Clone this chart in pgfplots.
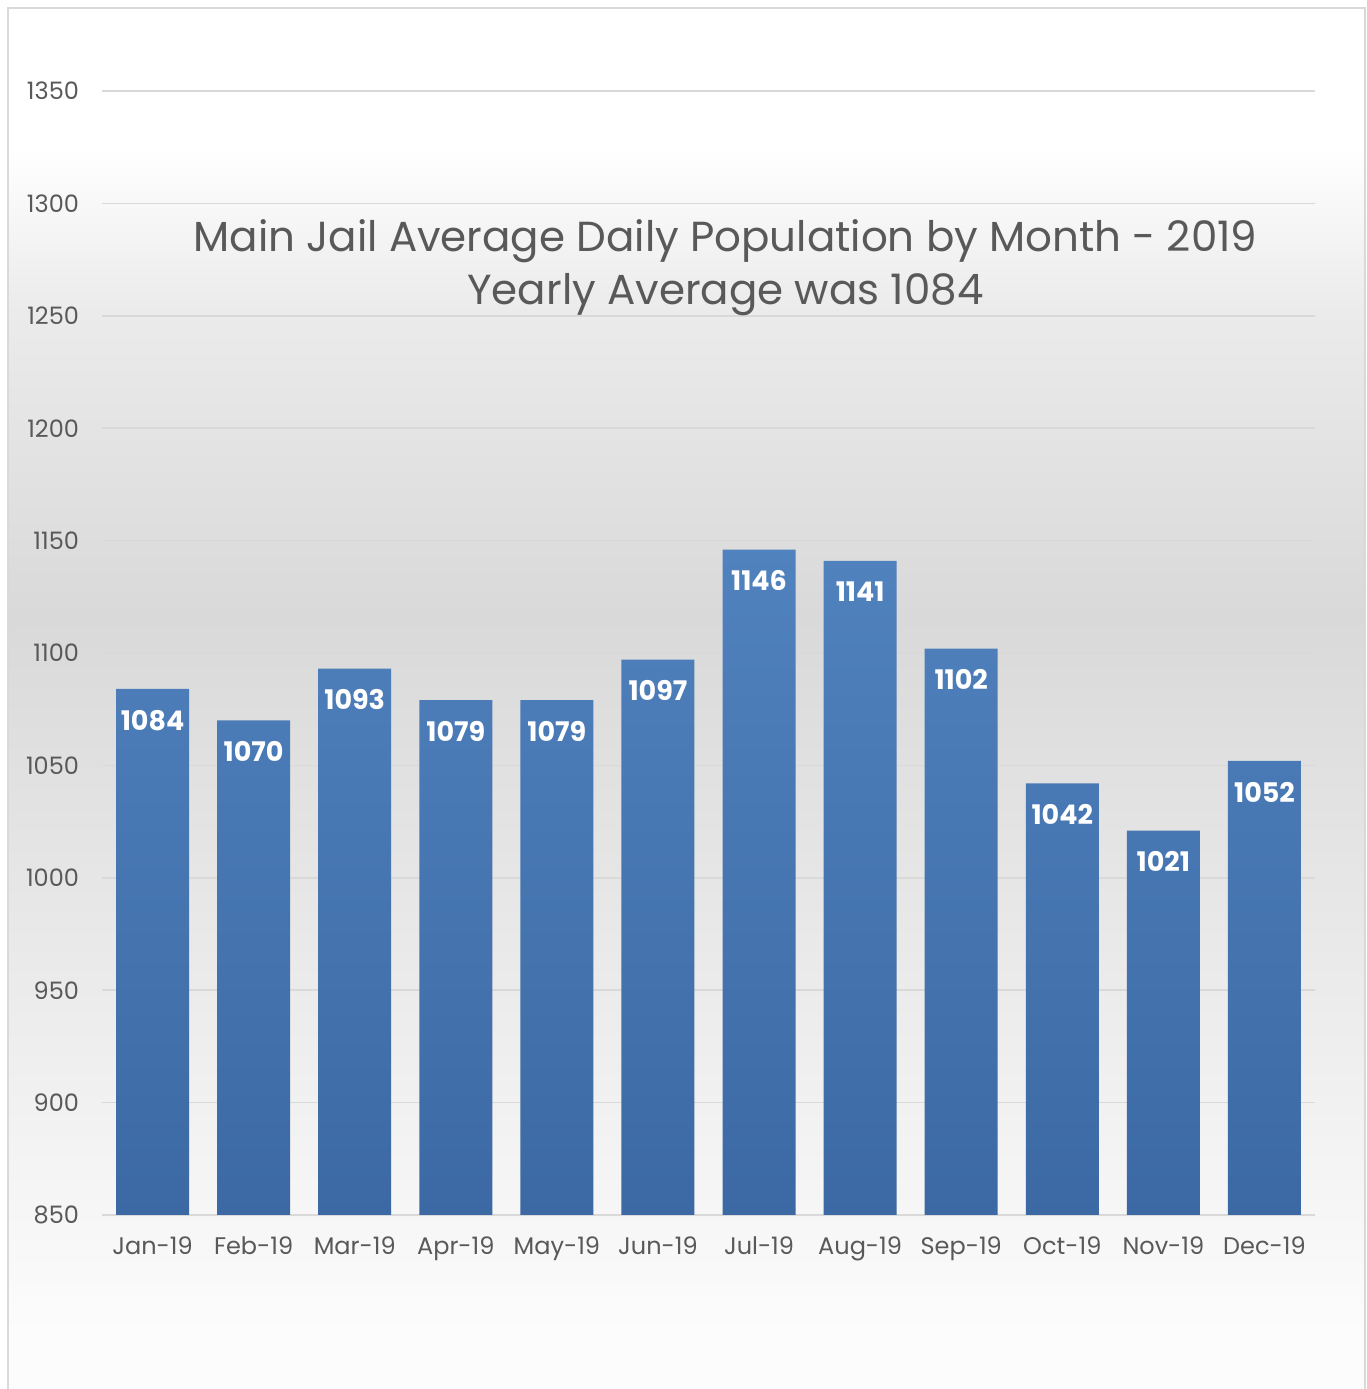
\documentclass[border=0pt]{standalone}
\usepackage{pgfplots}
\pgfplotsset{compat=1.18}
\usepackage{fontspec}
\setmainfont{Poppins}
\definecolor{barTop}{HTML}{5082BE}
\definecolor{barBot}{HTML}{3C69A3}
\definecolor{txt}{HTML}{595959}
\definecolor{gridc}{HTML}{D9D9D9}
\definecolor{bgA}{HTML}{FCFCFC}
\definecolor{bgB}{HTML}{F0F0F0}
\definecolor{bgC}{HTML}{D9D9D9}
\definecolor{bgD}{HTML}{EBEBEB}
\pgfdeclareverticalshading{chartbg}{100bp}{color(0bp)=(bgA); color(27bp)=(bgA); color(36bp)=(bgB); color(53bp)=(bgC); color(64bp)=(bgD); color(70bp)=(white); color(100bp)=(white)}
\begin{document}
\begin{tikzpicture}
\useasboundingbox (0,0) rectangle (683.5pt,694.5pt);
\shade[shading=chartbg] (4pt,0) rectangle (682.5pt,690.5pt);
\draw[gridc, line width=0.8pt] (4pt,-2pt) -- (4pt,690.5pt) -- (682.5pt,690.5pt) -- (682.5pt,-2pt);
\begin{axis}[
    at={(51pt,87pt)}, anchor=south west,
    scale only axis, width=606.5pt, height=562pt,
    ybar, bar width=36.5pt,
    xmin=-0.5, xmax=11.5, ymin=850, ymax=1350,
    ytick={850,900,...,1350},
    xtick=data,
    xticklabels={Jan-19,Feb-19,Mar-19,Apr-19,May-19,Jun-19,Jul-19,Aug-19,Sep-19,Oct-19,Nov-19,Dec-19},
    ymajorgrids,
    grid style={gridc, line width=0.8pt},
    axis line style={draw=none},
    major tick length=0pt,
    tick label style={font=\fontsize{12}{14}\selectfont, text=txt},
    yticklabel style={xshift=-8pt},
    xticklabel style={yshift=-7.5pt},
    /pgf/number format/assume math mode=true,
    /pgf/number format/1000 sep={},
    nodes near coords,
    nodes near coords style={font=\bfseries\fontsize{13.5}{15}\selectfont, text=white, anchor=north, yshift=-7pt},
    ]
    \addplot[draw=none, top color=barTop, bottom color=barBot] coordinates {
        (0,1084) (1,1070) (2,1093) (3,1079) (4,1079) (5,1097)
        (6,1146) (7,1141) (8,1102) (9,1042) (10,1021) (11,1052)};
    \node[align=center, text=txt, font=\fontsize{21}{26.5}\selectfont] at (rel axis cs:0.514,0.843)
        {Main Jail Average Daily Population by Month - 2019\\Yearly Average was 1084};
\end{axis}
\end{tikzpicture}
\end{document}
